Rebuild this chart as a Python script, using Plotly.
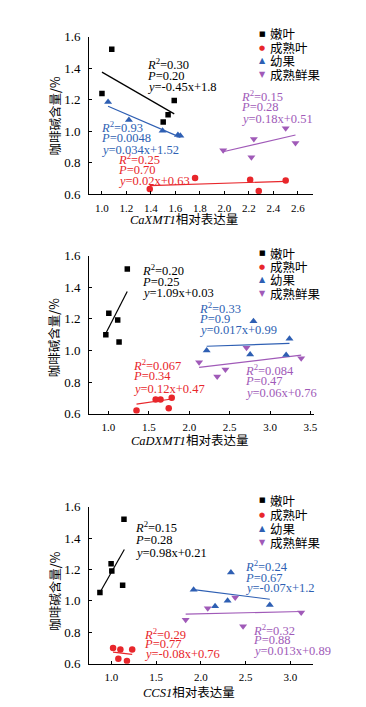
import plotly.graph_objects as go

W, H = 366, 707

# ---------------- data ----------------
series_names = ["嫩叶", "成熟叶", "幼果", "成熟鲜果"]
colors = ["#000000", "#e8262b", "#2e5fb3", "#a05ab8"]
symbols = ["square", "circle", "triangle-up", "triangle-down"]
glyphs = ["■", "●", "▲", "▼"]

# Panel 1: CaXMT1
p1_nen_x = [1.00, 1.08, 1.50, 1.54, 1.59]
p1_nen_y = [1.240, 1.521, 1.060, 1.105, 1.196]
p1_csy_x = [1.39, 1.76, 2.21, 2.28, 2.50]
p1_csy_y = [0.635, 0.704, 0.693, 0.621, 0.689]
p1_yg_x = [1.05, 1.22, 1.495, 1.62, 1.64]
p1_yg_y = [1.186, 1.072, 1.004, 0.977, 0.973]
p1_xg_x = [1.99, 2.22, 2.24, 2.50, 2.58]
p1_xg_y = [0.880, 0.836, 0.952, 1.020, 0.927]
p1_fit_x = [[1.00, 1.59], [1.39, 2.50], [1.05, 1.64], [1.98, 2.58]]
p1_fit_y = [[1.376, 1.111], [0.656, 0.683], [1.159, 0.962], [0.869, 0.977]]
p1_stats = [("0.30", "0.20", "-0.45x+1.8"), ("0.25", "0.70", "0.02x+0.63"),
            ("0.93", "0.0048", "0.034x+1.52"), ("0.15", "0.28", "0.18x+0.51")]

# Panel 2: CaDXMT1
p2_nen_x = [0.967, 1.004, 1.114, 1.131, 1.233]
p2_nen_y = [1.100, 1.236, 1.193, 1.054, 1.517]
p2_csy_x = [1.347, 1.584, 1.644, 1.746, 1.783]
p2_csy_y = [0.620, 0.690, 0.690, 0.634, 0.700]
p2_yg_x = [2.216, 2.754, 2.795, 3.200, 3.241]
p2_yg_y = [1.000, 0.975, 1.186, 0.971, 1.074]
p2_xg_x = [2.122, 2.346, 2.448, 2.709, 3.386]
p2_xg_y = [0.926, 0.835, 0.879, 1.017, 0.951]
p2_fit_x = [[0.963, 1.232], [1.347, 1.783], [2.216, 3.241], [2.122, 3.386]]
p2_fit_y = [[1.105, 1.374], [0.660, 0.693], [1.027, 1.045], [0.893, 0.971]]
p2_stats = [("0.20", "0.25", "1.09x+0.03"), ("0.067", "0.34", "0.12x+0.47"),
            ("0.33", "0.9", "0.017x+0.99"), ("0.084", "0.47", "0.06x+0.76")]

# Panel 3: CCS1
p3_nen_x = [0.871, 0.996, 1.004, 1.125, 1.140]
p3_nen_y = [1.053, 1.236, 1.190, 1.099, 1.519]
p3_csy_x = [1.018, 1.077, 1.100, 1.173, 1.232]
p3_csy_y = [0.700, 0.631, 0.690, 0.617, 0.690]
p3_yg_x = [1.919, 2.159, 2.299, 2.336, 2.771]
p3_yg_y = [1.070, 0.965, 1.000, 1.180, 0.974]
p3_xg_x = [1.830, 2.077, 2.384, 2.472, 3.122]
p3_xg_y = [0.879, 0.953, 1.021, 0.838, 0.926]
p3_fit_x = [[0.871, 1.144], [1.018, 1.232], [1.919, 2.771], [1.830, 3.122]]
p3_fit_y = [[1.053, 1.327], [0.673, 0.659], [1.072, 1.010], [0.916, 0.932]]
p3_stats = [("0.15", "0.28", "0.98x+0.21"), ("0.29", "0.77", "-0.08x+0.76"),
            ("0.24", "0.67", "-0.07x+1.2"), ("0.32", "0.88", "0.013x+0.89")]

x_titles = ["<i>CaXMT1</i>相对表达量", "<i>CaDXMT1</i>相对表达量", "<i>CCS1</i>相对表达量"]
y_title = "咖啡碱含量/%"
y_ticks = [0.6, 0.8, 1.0, 1.2, 1.4, 1.6]
x_ticks = [[1.0, 1.2, 1.4, 1.6, 1.8, 2.0, 2.2, 2.4, 2.6],
           [1.0, 1.5, 2.0, 2.5, 3.0, 3.5],
           [1.0, 1.5, 2.0, 2.5, 3.0]]

# ---------------- layout geometry (pixels) ----------------
panels = [
    dict(xs=[p1_nen_x, p1_csy_x, p1_yg_x, p1_xg_x], ys=[p1_nen_y, p1_csy_y, p1_yg_y, p1_xg_y],
         fx=p1_fit_x, fy=p1_fit_y, stats=p1_stats, xrange=[0.895, 2.72],
         px=(82, 308), py=(22.3, 183.3),
         stat_pos=[(138.3, [50, 62.7, 74]), (109.3, [146.7, 158.3, 169.3]),
                   (92.3, [114.3, 126, 137.7]), (233.3, [82.7, 94.3, 106])],
         legend_y=[19, 33.3, 46.7, 61], xtitle=(178, 209.3), ytitle_y=103.5),
    dict(xs=[p2_nen_x, p2_csy_x, p2_yg_x, p2_xg_x], ys=[p2_nen_y, p2_csy_y, p2_yg_y, p2_xg_y],
         fx=p2_fit_x, fy=p2_fit_y, stats=p2_stats, xrange=[0.76, 3.54],
         px=(82, 309), py=(246, 407.3),
         stat_pos=[(133.3, [260.7, 272.7, 284.3]), (124, [357.3, 369.3, 382.3]),
                   (191, [299, 310.7, 321.7]), (237.3, [362.7, 374, 385.7])],
         legend_y=[243.3, 257.3, 270.7, 284.3], xtitle=(183, 435), ytitle_y=330),
    dict(xs=[p3_nen_x, p3_csy_x, p3_yg_x, p3_xg_x], ys=[p3_nen_y, p3_csy_y, p3_yg_y, p3_xg_y],
         fx=p3_fit_x, fy=p3_fit_y, stats=p3_stats, xrange=[0.75, 3.25],
         px=(82, 308), py=(502.3, 662.7),
         stat_pos=[(126.7, [522.7, 536.7, 549.3]), (135, [632.3, 642.7, 653.3]),
                   (237.7, [563.3, 575, 585.7]), (246, [628.3, 639, 650])],
         legend_y=[496, 510.7, 524.3, 539], xtitle=(183, 692.7), ytitle_y=589),
]

SERIF = "Liberation Serif, Times New Roman, Noto Sans CJK SC, serif"
CJK = "Noto Sans CJK SC, Liberation Serif, sans-serif"
msizes = [5.5, 6.5, 7, 7]

def fx_(p):
    return p / W

def fy_(p):
    return 1 - p / H

fig = go.Figure()
annotations = []
layout = {}

for i, pn in enumerate(panels):
    k = "" if i == 0 else str(i + 1)
    xa, ya = "x" + k, "y" + k
    for j in range(4):
        fig.add_trace(go.Scatter(
            x=pn["fx"][j], y=pn["fy"][j], mode="lines", xaxis=xa, yaxis=ya,
            line=dict(color=colors[j], width=1.2), showlegend=False, hoverinfo="skip"))
    for j in range(4):
        fig.add_trace(go.Scatter(
            x=pn["xs"][j], y=pn["ys"][j], mode="markers", name=series_names[j],
            xaxis=xa, yaxis=ya, showlegend=False,
            marker=dict(symbol=symbols[j], color=colors[j], size=msizes[j], line=dict(width=0))))

    xd = [fx_(pn["px"][0]), fx_(pn["px"][1])]
    yd = [fy_(pn["py"][1]), fy_(pn["py"][0])]
    layout["xaxis" + k] = dict(
        domain=xd, anchor=ya, range=pn["xrange"], tickvals=x_ticks[i],
        ticktext=["%.1f" % v for v in x_ticks[i]],
        showline=True, linecolor="black", linewidth=1, ticks="inside", ticklen=3,
        tickcolor="black", showgrid=False, zeroline=False,
        tickfont=dict(family=SERIF, size=11, color="black"), ticklabelstandoff=3)
    layout["yaxis" + k] = dict(
        domain=yd, anchor=xa, range=[0.6, 1.6], tickvals=y_ticks,
        ticktext=["%.1f" % v for v in y_ticks],
        showline=True, linecolor="black", linewidth=1, ticks="inside", ticklen=3,
        tickcolor="black", showgrid=False, zeroline=False,
        tickfont=dict(family=SERIF, size=13, color="black"), ticklabelstandoff=5)
    # faint mirrored tick dots on the right
    layout["yaxis" + str(i + 4)] = dict(
        overlaying=ya, anchor=xa, side="right", range=[0.6, 1.6], dtick=0.1,
        showline=False, ticks="inside", ticklen=1.5, tickwidth=1, tickcolor="#9a9a9a",
        showticklabels=False, showgrid=False, zeroline=False)

    # regression statistic text
    for j in range(4):
        r2, p, eq = pn["stats"][j]
        lines = ["<i>R</i><sup>2</sup>=" + r2, "<i>P</i>=" + p, "<i>y</i>=" + eq]
        x0, ys_ = pn["stat_pos"][j]
        for t, yy in zip(lines, ys_):
            annotations.append(dict(
                xref="paper", yref="paper", x=fx_(x0), y=fy_(yy), xanchor="left",
                yanchor="middle", text=t, showarrow=False,
                font=dict(family=SERIF, size=12.5, color=colors[j])))

    # legend
    for j in range(4):
        yy = pn["legend_y"][j]
        annotations.append(dict(
            xref="paper", yref="paper", x=fx_(257.3), y=fy_(yy), xanchor="center",
            yanchor="middle", text=glyphs[j], showarrow=False,
            font=dict(family="DejaVu Sans", size=7 if j < 2 else 8, color=colors[j])))
        annotations.append(dict(
            xref="paper", yref="paper", x=fx_(262.5), y=fy_(yy), xanchor="left",
            yanchor="middle", text=series_names[j], showarrow=False,
            font=dict(family=CJK, size=12.5, color="black")))

    # axis titles
    annotations.append(dict(
        xref="paper", yref="paper", x=fx_(pn["xtitle"][0]), y=fy_(pn["xtitle"][1]),
        xanchor="center", yanchor="middle", text=x_titles[i], showarrow=False,
        font=dict(family=SERIF, size=12.5, color="black")))
    annotations.append(dict(
        xref="paper", yref="paper", x=fx_(46.7), y=fy_(pn["ytitle_y"]),
        xanchor="center", yanchor="middle", text=y_title, textangle=-90, showarrow=False,
        font=dict(family=CJK, size=12.5, color="black")))

fig.update_layout(
    width=W, height=H, margin=dict(l=0, r=0, t=0, b=0),
    paper_bgcolor="white", plot_bgcolor="white", showlegend=False,
    annotations=annotations, **layout)

fig.write_html("out.html")
